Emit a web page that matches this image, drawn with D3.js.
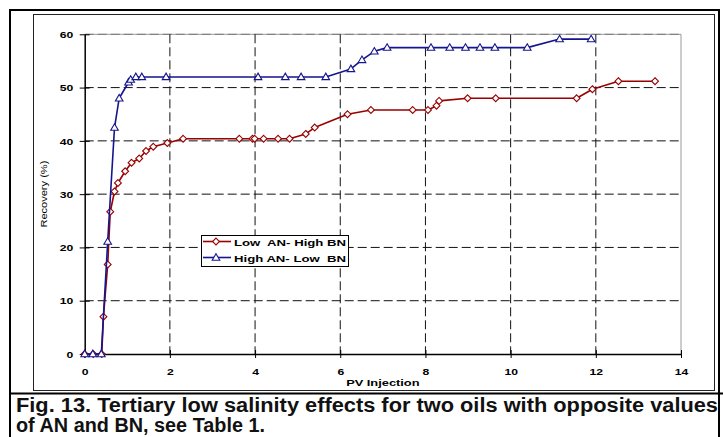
<!DOCTYPE html>
<html>
<head>
<meta charset="utf-8">
<script src="https://cdn.jsdelivr.net/npm/d3@7"></script>
<style>
  html, body { margin: 0; padding: 0; background: #fff; }
  svg { display: block; font-family: "Liberation Sans", Arial, sans-serif; }
</style>
</head>
<body>
<svg id="chart" width="723" height="437"></svg>
<script>
// Recovery (%) versus pore volumes injected, for two crude oils
const lowAnHighBnPV = [0, 0.2, 0.4, 0.44, 0.54, 0.6, 0.7, 0.78, 0.95, 1.1, 1.28, 1.44, 1.61, 1.94, 2.31,
  3.63, 3.94, 3.99, 4.2, 4.54, 4.81, 5.19, 5.4, 6.17, 6.72, 7.7, 8.06, 8.26, 8.32, 8.99, 9.65, 11.55, 11.92, 12.53, 13.39];
const lowAnHighBnRec = [0, 0, 0, 7.0, 16.8, 26.7, 30.5, 32.1, 34.3, 35.9, 36.7, 38.1, 38.9, 39.6, 40.4,
  40.4, 40.4, 40.4, 40.4, 40.4, 40.4, 41.3, 42.5, 45.0, 45.8, 45.8, 45.8, 46.6, 47.5, 48.0, 48.0, 48.0, 49.7, 51.2, 51.2];

const highAnLowBnPV = [0, 0.19, 0.39, 0.54, 0.7, 0.81, 1.03, 1.08, 1.2, 1.34, 1.91, 4.07, 4.71, 5.08, 5.66,
  6.25, 6.51, 6.8, 7.1, 8.13, 8.57, 8.94, 9.28, 9.63, 10.39, 11.15, 11.89];
const highAnLowBnRec = [0, 0, 0, 21.1, 42.5, 48.0, 51.0, 51.5, 52.0, 52.0, 52.0, 52.0, 52.0, 52.0, 52.0,
  53.5, 55.2, 56.8, 57.5, 57.5, 57.5, 57.5, 57.5, 57.5, 57.5, 59.1, 59.1];

const seriesNames = ["Low  AN- High BN", "High AN- Low  BN"];
const xTickValues = [0, 2, 4, 6, 8, 10, 12, 14];
const yTickValues = [0, 10, 20, 30, 40, 50, 60];
const xTitle = "PV Injection";
const yTitle = "Recovery (%)";
const captionLines = [
  "Fig. 13. Tertiary low salinity effects for two oils with opposite values",
  "of AN and BN, see Table 1."
];

const series = [
  { name: seriesNames[0], xs: lowAnHighBnPV, ys: lowAnHighBnRec, color: "#990000", marker: "diamond" },
  { name: seriesNames[1], xs: highAnLowBnPV, ys: highAnLowBnRec, color: "#15158f", marker: "triangle" }
];

const svg = d3.select("#chart");
const plot = { left: 84.7, right: 681, top: 34.3, bottom: 354 };
const STRETCH = 1.35; // chart lettering is drawn horizontally widened

const x = d3.scaleLinear().domain([0, 14]).range([plot.left, plot.right]);
const y = d3.scaleLinear().domain([0, 60]).range([plot.bottom, plot.top]);

// widen a text element about its own anchor
function widen(sel, factor) {
  sel.each(function () {
    const t = d3.select(this);
    const len = this.getComputedTextLength();
    t.attr("textLength", len * factor).attr("lengthAdjust", "spacingAndGlyphs");
  });
}

// outer frame and inner chart frame
svg.append("rect").attr("x", 10).attr("y", 10).attr("width", 709).attr("height", 440)
  .attr("fill", "none").attr("stroke", "#000").attr("stroke-width", 2);
svg.append("rect").attr("x", 33.5).attr("y", 14.5).attr("width", 681).attr("height", 376)
  .attr("fill", "none").attr("stroke", "#222").attr("stroke-width", 1);
svg.append("line").attr("x1", 10).attr("x2", 723).attr("y1", 393.5).attr("y2", 393.5)
  .attr("stroke", "#000").attr("stroke-width", 2.2);

// plot area border (top and right)
svg.append("path")
  .attr("d", `M${plot.left},${plot.top}H${plot.right}V${plot.bottom}`)
  .attr("fill", "none").attr("stroke", "#9a9a9a").attr("stroke-width", 1);

// dashed gridlines
const grid = svg.append("g").attr("stroke", "#111").attr("stroke-width", 1).attr("stroke-dasharray", "9,4");
grid.selectAll("line.h").data(yTickValues.filter(v => v > 0)).join("line")
  .attr("x1", plot.left).attr("x2", plot.right)
  .attr("y1", d => y(d)).attr("y2", d => y(d))
  .attr("stroke", d => d === 60 ? "#777" : "#111");
grid.selectAll("line.v").data(xTickValues.filter(v => v > 0 && v < 14)).join("line")
  .attr("y1", plot.top).attr("y2", plot.bottom)
  .attr("x1", d => x(d)).attr("x2", d => x(d));

// axes
const xAxis = svg.append("g").attr("transform", `translate(0,${plot.bottom})`)
  .call(d3.axisBottom(x).tickValues(xTickValues).tickSize(4).tickSizeOuter(0).tickFormat(d3.format("d")));
const yAxis = svg.append("g").attr("transform", `translate(${plot.left},0)`)
  .call(d3.axisLeft(y).tickValues(yTickValues).tickSize(5).tickSizeOuter(0).tickFormat(d3.format("d")));

[xAxis, yAxis].forEach(a => {
  a.select(".domain").attr("stroke", "#000").attr("stroke-width", 1.5);
  a.selectAll(".tick line").attr("stroke", "#000").attr("stroke-width", 1);
  a.selectAll(".tick text").attr("fill", "#000").attr("font-family", "Liberation Sans, Arial, sans-serif")
    .attr("font-size", 9).attr("font-weight", "bold");
});
xAxis.selectAll(".tick line").attr("y1", -4).attr("y2", 4);
xAxis.selectAll(".tick text").attr("y", 21).attr("dy", 0);
yAxis.selectAll(".tick line").attr("x1", -5).attr("x2", 5);
yAxis.selectAll(".tick text").attr("x", -11.4).attr("dy", "0.36em");
widen(xAxis.selectAll(".tick text"), STRETCH);
widen(yAxis.selectAll(".tick text"), STRETCH);

// axis titles
svg.append("text").attr("x", (plot.left + plot.right) / 2).attr("y", 386)
  .attr("text-anchor", "middle").attr("font-size", 9.5).attr("font-weight", "bold")
  .text(xTitle).call(widen, 1.35);
svg.append("text").attr("transform", `translate(46.5,${(plot.top + plot.bottom) / 2}) rotate(-90)`)
  .attr("text-anchor", "middle").attr("font-size", 8.5)
  .text(yTitle).call(widen, 1.3);

// markers
const diamond = d3.symbol().type(d3.symbolDiamond2).size(30);
const triangle = "M0,-3.8L3.8,2.7H-3.8Z";
function drawMarker(g, kind, color) {
  if (kind === "diamond") {
    g.append("path").attr("d", diamond()).attr("fill", "#fff").attr("stroke", color).attr("stroke-width", 1.1);
  } else {
    g.append("path").attr("d", triangle).attr("fill", "#fff").attr("stroke", color).attr("stroke-width", 1.1);
  }
}

// series lines and points
const line = d3.line().x(d => x(d[0])).y(d => y(d[1]));
series.forEach(s => {
  const pts = s.xs.map((v, i) => [v, s.ys[i]]);
  svg.append("path").datum(pts).attr("d", line)
    .attr("fill", "none").attr("stroke", s.color).attr("stroke-width", 1.6).attr("stroke-linejoin", "round");
  svg.append("g").selectAll("g").data(pts).join("g")
    .attr("transform", d => `translate(${x(d[0])},${y(d[1])})`)
    .each(function () { drawMarker(d3.select(this), s.marker, s.color); });
});

// legend
const legend = svg.append("g");
legend.append("rect").attr("x", 201.5).attr("y", 235.5).attr("width", 147).attr("height", 31)
  .attr("fill", "#fff").attr("stroke", "#000").attr("stroke-width", 1);
const rowY = [241.5, 257.5];
series.forEach((s, i) => {
  const r = legend.append("g").attr("transform", `translate(0,${rowY[i]})`);
  r.append("line").attr("x1", 203).attr("x2", 231).attr("stroke", s.color).attr("stroke-width", 1.6);
  const m = r.append("g").attr("transform", "translate(216,0)");
  drawMarker(m, s.marker, s.color);
  r.append("text").attr("x", 234).attr("y", 4.3).attr("font-size", 9.3).attr("font-weight", "bold")
    .style("white-space", "pre").text(s.name)
    .attr("textLength", 112).attr("lengthAdjust", "spacingAndGlyphs");
});

// caption
const cap = svg.append("g").attr("font-size", 19.5).attr("font-weight", "bold").attr("fill", "#111");
cap.append("text").attr("x", 16).attr("y", 412).text(captionLines[0])
  .attr("textLength", 702).attr("lengthAdjust", "spacingAndGlyphs");
cap.append("text").attr("x", 16).attr("y", 432).text(captionLines[1])
  .attr("textLength", 249).attr("lengthAdjust", "spacingAndGlyphs");
</script>
</body>
</html>
